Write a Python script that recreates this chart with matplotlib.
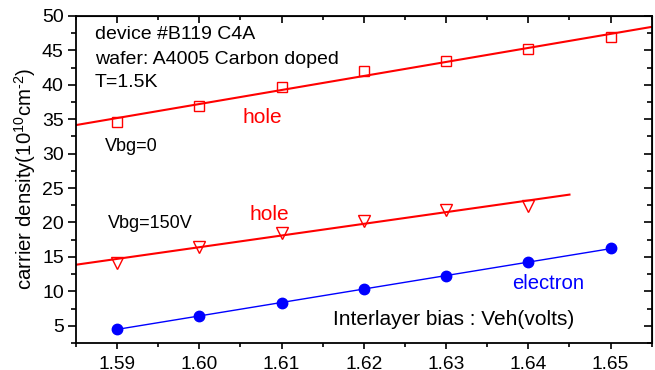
import matplotlib
matplotlib.use("Agg")
import matplotlib.pyplot as plt
import numpy as np
from matplotlib.ticker import MultipleLocator

plt.rcParams['font.family'] = ['Liberation Sans', 'DejaVu Sans']
plt.rcParams['mathtext.fontset'] = 'custom'
plt.rcParams['mathtext.rm'] = 'Liberation Sans'
plt.rcParams['mathtext.default'] = 'regular'

veh = [1.59, 1.60, 1.61, 1.62, 1.63, 1.64, 1.65]
hole_vbg0 = [34.65, 36.93, 39.73, 42.06, 43.46, 45.21, 46.9]
veh_150 = [1.59, 1.60, 1.61, 1.62, 1.63, 1.64]
hole_vbg150 = [14.17, 16.45, 18.53, 20.27, 21.87, 22.45]
electron = [4.54, 6.43, 8.32, 10.3, 12.28, 14.23, 16.26]
xtick_labels = ['1.59', '1.60', '1.61', '1.62', '1.63', '1.64', '1.65']

fit0_x = [1.585, 1.655]
fit150_x = [1.585, 1.645]
fit_e_x = [1.59, 1.65]

fig = plt.figure(figsize=(6.55, 3.7), dpi=100)
ax = fig.add_axes([0.116, 0.073, 0.879, 0.884])

# linear fits
p0 = np.polyfit(veh, hole_vbg0, 1)
p150 = np.polyfit(veh_150, hole_vbg150, 1)
pe = np.polyfit(veh, electron, 1)

ax.plot(fit0_x, np.polyval(p0, fit0_x), color='red', lw=1.5)
ax.plot(fit150_x, np.polyval(p150, fit150_x), color='red', lw=1.5)
ax.plot(fit_e_x, np.polyval(pe, fit_e_x), color='blue', lw=1.0)

ax.plot(veh, hole_vbg0, ls='none', marker='s', ms=7.5, mfc='none', mec='red', mew=1.0)
ax.plot(veh_150, hole_vbg150, ls='none', marker='v', ms=8.5, mfc='none', mec='red', mew=1.0)
ax.plot(veh, electron, ls='none', marker='o', ms=7.5, mfc='blue', mec='blue')

ax.set_xlim(1.585, 1.655)
ax.set_ylim(2.5, 50)
ax.xaxis.set_minor_locator(MultipleLocator(0.005))
ax.yaxis.set_major_locator(MultipleLocator(5))
ax.yaxis.set_minor_locator(MultipleLocator(2.5))
ax.set_xticks(veh)
ax.set_xticklabels(xtick_labels)

for s in ax.spines.values():
    s.set_linewidth(1.3)

ax.tick_params(axis='x', which='major', direction='out', length=4.3, width=1.2, labelsize=13.8, pad=5)
ax.tick_params(axis='x', which='minor', direction='out', length=3, width=1.2)
ax.tick_params(axis='y', which='major', direction='out', length=5.8, width=1.2, labelsize=14, pad=3)
ax.tick_params(axis='y', which='minor', direction='out', length=3.6, width=1.2)

# mirrored inward ticks on top and right
axt = ax.secondary_xaxis('top')
axt.xaxis.set_major_locator(MultipleLocator(0.01))
axt.xaxis.set_minor_locator(MultipleLocator(0.005))
axt.tick_params(which='major', direction='in', length=5, width=1.2, labeltop=False)
axt.tick_params(which='minor', direction='in', length=3, width=1.2)
axt.set_xticklabels([])
axr = ax.secondary_yaxis('right')
axr.yaxis.set_major_locator(MultipleLocator(5))
axr.yaxis.set_minor_locator(MultipleLocator(2.5))
axr.tick_params(which='major', direction='in', length=5.8, width=1.2, labelright=False)
axr.tick_params(which='minor', direction='in', length=3.6, width=1.2)
axr.set_yticklabels([])

ax.set_ylabel('carrier density(10$^{10}$cm$^{\\text{-}2}$)', fontsize=14.7, labelpad=3)

ax.text(1.5873, 47.24, 'device #B119 C4A', fontsize=14, va='center', ha='left')
ax.text(1.5873, 43.6, 'wafer: A4005 Carbon doped', fontsize=14, va='center', ha='left')
ax.text(1.5873, 40.4, 'T=1.5K', fontsize=14, va='center', ha='left')
ax.text(1.5885, 31.1, 'Vbg=0', fontsize=13, va='center', ha='left')
ax.text(1.5889, 19.8, 'Vbg=150V', fontsize=13, va='center', ha='left')
ax.text(1.6052, 35.2, 'hole', fontsize=15, color='red', va='center', ha='left')
ax.text(1.6061, 21.1, 'hole', fontsize=15, color='red', va='center', ha='left')
ax.text(1.638, 11.2, 'electron', fontsize=14.6, color='blue', va='center', ha='left')
ax.text(1.6162, 5.85, 'Interlayer bias : Veh(volts)', fontsize=15, va='center', ha='left')

fig.savefig('out.png', dpi=100)
